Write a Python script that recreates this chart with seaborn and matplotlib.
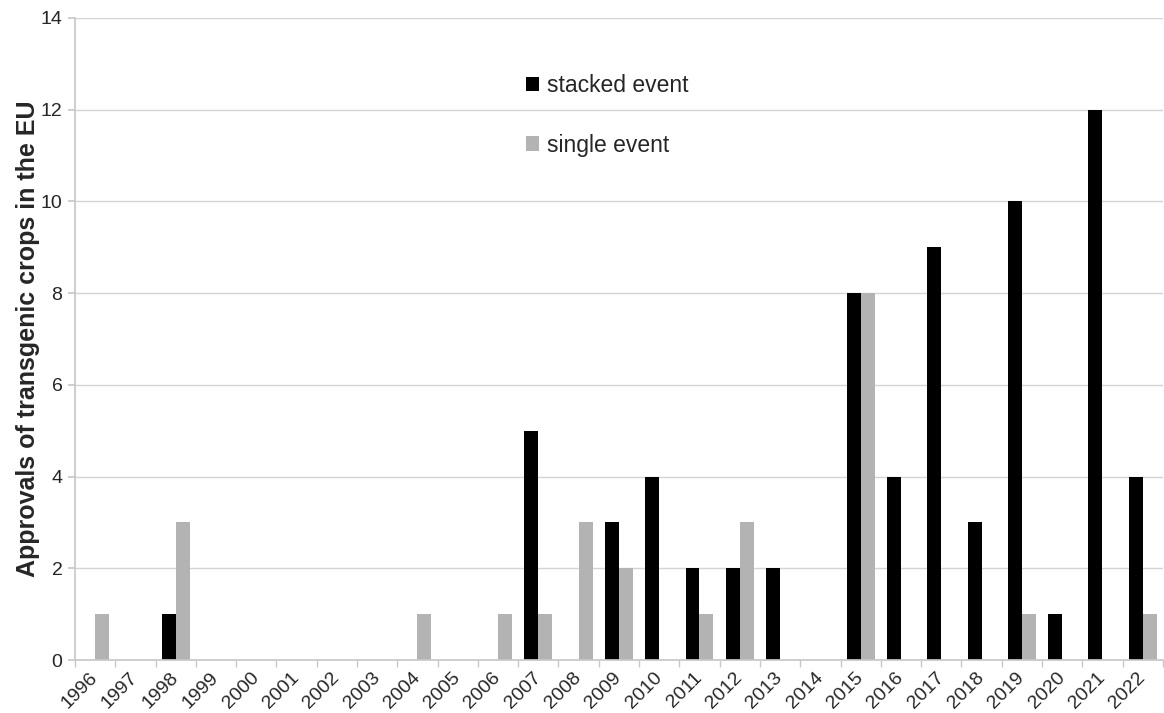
import pandas as pd
import matplotlib.pyplot as plt
import seaborn as sns

# Daten: Zulassungen pro Jahr
years = [str(y) for y in range(1996, 2023)]
stacked = [0, 0, 1, 0, 0, 0, 0, 0, 0, 0, 0, 5, 0, 3, 4, 2, 2, 2, 0, 8, 4, 9, 3, 10, 1, 12, 4]
single = [1, 0, 3, 0, 0, 0, 0, 0, 1, 0, 1, 1, 3, 2, 0, 1, 3, 0, 0, 8, 0, 0, 0, 1, 0, 0, 1]
series_names = ["stacked event", "single event"]
colors = ["#000000", "#b3b3b3"]

df = pd.DataFrame({
    "year": years * 2,
    "type": [series_names[0]] * len(years) + [series_names[1]] * len(years),
    "count": stacked + single,
})

sns.set_theme(style="white")
plt.rcParams["font.family"] = ["Liberation Sans", "DejaVu Sans"]

fig = plt.figure(figsize=(11.64, 7.13), dpi=100)
ax = fig.add_axes([0.0644, 0.0743, 0.9346, 0.9005])

sns.barplot(data=df, x="year", y="count", hue="type", hue_order=series_names,
            palette=colors, width=0.69, saturation=1, ax=ax, edgecolor="none")

ax.set_ylim(0, 14)
ax.set_xlim(-0.5, len(years) - 0.5)
ax.set_yticks(range(0, 15, 2))
ax.yaxis.grid(True, color="#d4d4d4", linewidth=1)
ax.set_axisbelow(True)

for side in ["top", "right"]:
    ax.spines[side].set_visible(False)
for side in ["left", "bottom"]:
    ax.spines[side].set_color("#c8c8c8")

# Striche zwischen den Kategorien, Beschriftung in der Mitte
ax.set_xticks(range(len(years)))
ax.set_xticklabels(years, rotation=45, ha="right", va="center",
                   rotation_mode="anchor", fontsize=14)
ax.set_xticks([i - 0.5 for i in range(len(years) + 1)], minor=True)
ax.tick_params(axis="x", which="major", length=0, pad=11)
ax.tick_params(axis="x", which="minor", length=5, color="#c8c8c8", bottom=True)
ax.tick_params(axis="y", length=5, color="#c8c8c8", left=True, labelsize=14, pad=4)

ax.set_xlabel("")
ax.set_ylabel("Approvals of transgenic crops in the EU", fontsize=18,
              fontweight="bold")
ax.yaxis.set_label_coords(-0.0325, 0.5)

ax.legend(loc="upper left", bbox_to_anchor=(0.396, 0.945), frameon=False,
          fontsize=16.5, handlelength=0.55, handleheight=0.6, handletextpad=0.35,
          labelspacing=1.6)

plt.savefig("out.png", dpi=100)
